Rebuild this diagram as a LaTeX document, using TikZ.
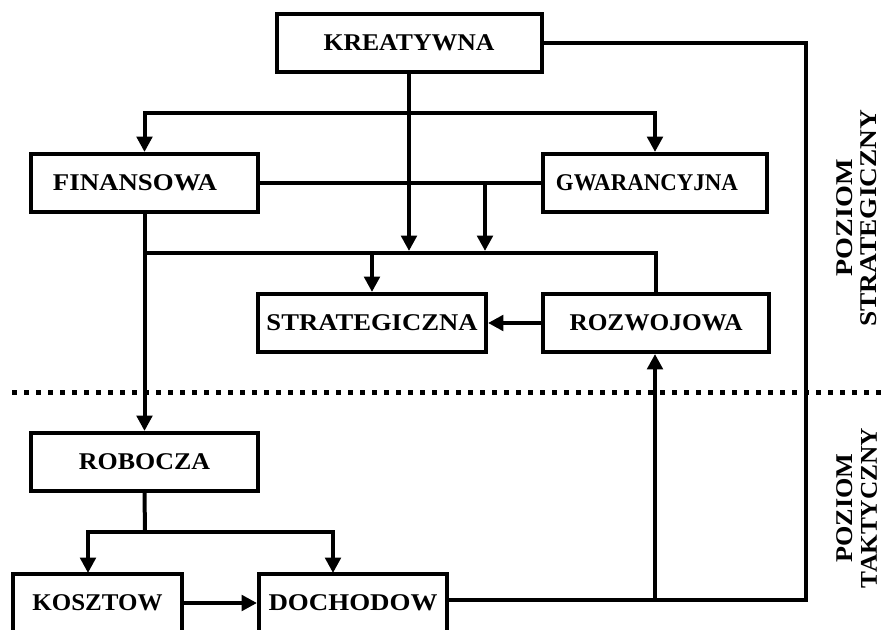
\documentclass[tikz,border=0pt]{standalone}
\usepackage{fontspec}
\setmainfont{Liberation Serif}
\usetikzlibrary{arrows.meta}
% set a word at a given width, keeping its height
\newcommand{\fitto}[2]{\resizebox{#1}{\height}{#2}}
\begin{document}
\begin{tikzpicture}[x=0.75pt,y=-0.75pt,
  every node/.style={font=\fontsize{18}{18}\selectfont\bfseries},
  unit/.style={draw,line width=3pt,inner sep=0pt,minimum height=43.5pt},
  link/.style={line width=3pt},
  arr/.style={line width=3pt,-{Triangle[length=11.5pt,width=11.5pt]}},
  level/.style={line width=3.75pt,dash pattern=on 3.75pt off 5.25pt},
  tag/.style={rotate=90,align=center}]
\useasboundingbox (0,0) rectangle (885,630);
\clip (0,0) rectangle (885,630);

% units of the structure
\node[unit,minimum width=198.75pt] (krea)  at (409,43)    {\fitto{128.25pt}{KREATYWNA}};
\node[unit,minimum width=170.25pt] (fin)   at (144.5,183) {\fitto{123pt}{FINANSOWA}\hspace*{14.25pt}};
\node[unit,minimum width=168pt]    (gwa)   at (655,183)   {\fitto{136.5pt}{GWARANCYJNA}\hspace*{12pt}};
\node[unit,minimum width=171pt]    (strat) at (372,323)   {\fitto{158.25pt}{STRATEGICZNA}};
\node[unit,minimum width=169.5pt]  (rozw)  at (656,323)   {\fitto{129.75pt}{ROZWOJOWA}};
\node[unit,minimum width=170.25pt] (rob)   at (144.5,462) {\fitto{98.25pt}{ROBOCZA}};
\node[unit,minimum width=126.75pt] (kosz)  at (97.5,603)  {\fitto{97.5pt}{KOSZTOW}};
\node[unit,minimum width=141pt]    (doch)  at (353,603)   {\fitto{126.75pt}{DOCHODOW}};

% level labels
\node[tag] (strlvl) at (857,218) {\fitto{87.75pt}{POZIOM}\\\fitto{162.75pt}{STRATEGICZNY}};
\node[tag] (taklvl) at (857,508) {\fitto{81.75pt}{POZIOM}\\\fitto{120pt}{TAKTYCZNY}};

% junction points
\coordinate (split)  at (409,113);
\coordinate (busL)   at (145,253);
\coordinate (busR)   at (656,253);
\coordinate (busK)   at (409,251);
\coordinate (gwaTap) at (485,183);
\coordinate (busG)   at (485,251);
\coordinate (busS)   at (372,253);
\coordinate (robJ)   at (145,532);
\coordinate (koszIn) at (88,573);
\coordinate (dochIn) at (333,573);
\coordinate (rozwUp) at (655,600);
\coordinate (cornerB) at (806,600);
\coordinate (cornerT) at (806,43);
\coordinate (lvlL)   at (12,393);
\coordinate (lvlR)   at (885,393);

% strategic level
\draw[arr] (krea.south) -- (busK);
\draw[arr] (split) -| (fin.north);
\draw[arr] (split) -| (gwa.north);
\draw[link] (fin.east) -- (gwa.west);
\draw[arr] (gwaTap) -- (busG);
\draw[link] (busL) -- (busR) -- (rozw.north);
\draw[arr] (busS) -- (strat.north);
\draw[arr] (rozw.west) -- (strat.east);
\draw[arr] (fin.south) -- (rob.north);

% tactical level
\draw[link] (rob.south) -- (robJ);
\draw[arr] (robJ) -| (koszIn);
\draw[arr] (robJ) -| (dochIn);
\draw[arr] (kosz.east) -- (doch.west |- kosz.east);
\draw[link] (doch.east |- rozwUp) -- (cornerB) -- (cornerT) -- (krea.east);
\draw[arr] (rozwUp) -- (rozw.south -| rozwUp);

% border between the levels
\draw[level] (lvlL) -- (lvlR);
\end{tikzpicture}
\end{document}
